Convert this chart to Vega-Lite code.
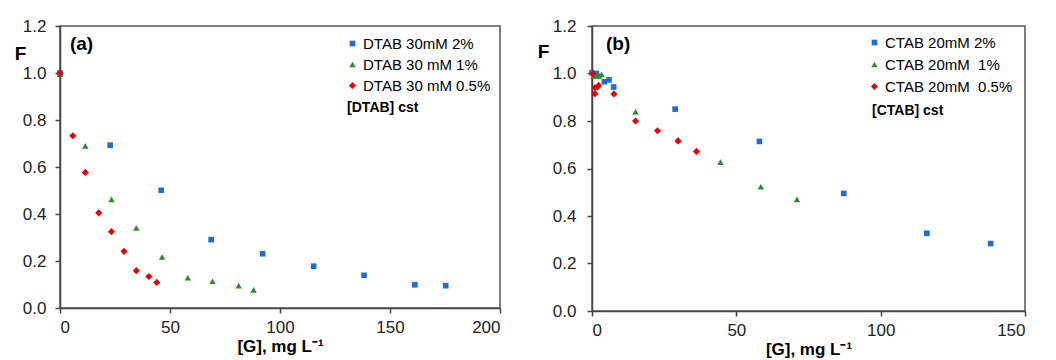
{
  "$schema": "https://vega.github.io/schema/vega-lite/v6.json",
  "padding": {"left": 13, "top": 16, "right": 5, "bottom": 0},
  "background": "white",
  "datasets": {
    "a": [
      {"series": "DTAB 30mM 2%", "G": 0, "F": 1.0},
      {"series": "DTAB 30mM 2%", "G": 22.8, "F": 0.693},
      {"series": "DTAB 30mM 2%", "G": 46.0, "F": 0.501},
      {"series": "DTAB 30mM 2%", "G": 68.7, "F": 0.291},
      {"series": "DTAB 30mM 2%", "G": 92.1, "F": 0.231},
      {"series": "DTAB 30mM 2%", "G": 115.3, "F": 0.178},
      {"series": "DTAB 30mM 2%", "G": 138.2, "F": 0.139},
      {"series": "DTAB 30mM 2%", "G": 161.3, "F": 0.099},
      {"series": "DTAB 30mM 2%", "G": 175.3, "F": 0.095},
      {"series": "DTAB 30 mM 1%", "G": 0, "F": 0.995},
      {"series": "DTAB 30 mM 1%", "G": 11.5, "F": 0.69},
      {"series": "DTAB 30 mM 1%", "G": 23.4, "F": 0.462},
      {"series": "DTAB 30 mM 1%", "G": 34.7, "F": 0.341},
      {"series": "DTAB 30 mM 1%", "G": 46.4, "F": 0.217},
      {"series": "DTAB 30 mM 1%", "G": 58.1, "F": 0.129},
      {"series": "DTAB 30 mM 1%", "G": 69.3, "F": 0.114},
      {"series": "DTAB 30 mM 1%", "G": 81.2, "F": 0.095},
      {"series": "DTAB 30 mM 1%", "G": 88.0, "F": 0.077},
      {"series": "DTAB 30 mM 0.5%", "G": 0, "F": 1.0},
      {"series": "DTAB 30 mM 0.5%", "G": 5.8, "F": 0.733},
      {"series": "DTAB 30 mM 0.5%", "G": 11.5, "F": 0.577},
      {"series": "DTAB 30 mM 0.5%", "G": 17.6, "F": 0.405},
      {"series": "DTAB 30 mM 0.5%", "G": 23.4, "F": 0.325},
      {"series": "DTAB 30 mM 0.5%", "G": 29.1, "F": 0.241},
      {"series": "DTAB 30 mM 0.5%", "G": 34.7, "F": 0.159},
      {"series": "DTAB 30 mM 0.5%", "G": 40.4, "F": 0.134},
      {"series": "DTAB 30 mM 0.5%", "G": 44.0, "F": 0.109}
    ],
    "b": [
      {"series": "CTAB 20mM 2%", "G": 0, "F": 1.003},
      {"series": "CTAB 20mM 2%", "G": 1.5, "F": 1.0},
      {"series": "CTAB 20mM 2%", "G": 4.3, "F": 0.965},
      {"series": "CTAB 20mM 2%", "G": 5.9, "F": 0.973},
      {"series": "CTAB 20mM 2%", "G": 7.5, "F": 0.943},
      {"series": "CTAB 20mM 2%", "G": 28.8, "F": 0.85},
      {"series": "CTAB 20mM 2%", "G": 58.0, "F": 0.714},
      {"series": "CTAB 20mM 2%", "G": 87.2, "F": 0.495},
      {"series": "CTAB 20mM 2%", "G": 116.0, "F": 0.327},
      {"series": "CTAB 20mM 2%", "G": 138.1, "F": 0.284},
      {"series": "CTAB 20mM\u00a0 1%", "G": 0.5, "F": 0.99},
      {"series": "CTAB 20mM\u00a0 1%", "G": 1.5, "F": 0.99},
      {"series": "CTAB 20mM\u00a0 1%", "G": 2.5, "F": 0.99},
      {"series": "CTAB 20mM\u00a0 1%", "G": 3.3, "F": 0.997},
      {"series": "CTAB 20mM\u00a0 1%", "G": 15.1, "F": 0.839},
      {"series": "CTAB 20mM\u00a0 1%", "G": 29.9, "F": 0.721},
      {"series": "CTAB 20mM\u00a0 1%", "G": 44.5, "F": 0.627},
      {"series": "CTAB 20mM\u00a0 1%", "G": 58.5, "F": 0.523},
      {"series": "CTAB 20mM\u00a0 1%", "G": 71.0, "F": 0.47},
      {"series": "CTAB 20mM\u00a0 0.5%", "G": 0.3, "F": 0.999},
      {"series": "CTAB 20mM\u00a0 0.5%", "G": 1.0, "F": 0.94},
      {"series": "CTAB 20mM\u00a0 0.5%", "G": 1.0, "F": 0.915},
      {"series": "CTAB 20mM\u00a0 0.5%", "G": 1.9, "F": 0.943},
      {"series": "CTAB 20mM\u00a0 0.5%", "G": 2.3, "F": 0.95},
      {"series": "CTAB 20mM\u00a0 0.5%", "G": 7.6, "F": 0.914},
      {"series": "CTAB 20mM\u00a0 0.5%", "G": 15.1, "F": 0.8},
      {"series": "CTAB 20mM\u00a0 0.5%", "G": 22.7, "F": 0.759},
      {"series": "CTAB 20mM\u00a0 0.5%", "G": 29.8, "F": 0.716},
      {"series": "CTAB 20mM\u00a0 0.5%", "G": 36.2, "F": 0.672}
    ]
  },
  "config": {
    "font": "Liberation Sans",
    "view": {"stroke": "#555555", "strokeWidth": 1.5},
    "axis": {
      "grid": false,
      "domainColor": "#444444",
      "domainWidth": 1.5,
      "tickColor": "#444444",
      "tickWidth": 1.5,
      "tickSize": 5,
      "labelColor": "#222222",
      "labelFontSize": 17,
      "labelFont": "Liberation Sans",
      "titleFont": "Liberation Sans",
      "titleFontSize": 17,
      "titleFontWeight": "bold",
      "titleColor": "#000000"
    },
    "legend": {
      "labelFont": "Liberation Sans",
      "labelFontSize": 15,
      "labelColor": "#000000",
      "symbolSize": 22,
      "padding": 0,
      "labelOffset": 3
    }
  },
  "resolve": {"scale": {"color": "independent", "shape": "independent", "size": "independent"}, "legend": {"color": "independent", "shape": "independent"}},
  "spacing": 34,
  "hconcat": [
    {
      "width": 440,
      "height": 282,
      "layer": [
        {
          "data": {"name": "a"},
          "mark": {"type": "point", "filled": true, "opacity": 1},
          "encoding": {
            "x": {"field": "G", "type": "quantitative", "scale": {"domain": [0, 200], "nice": false},
              "axis": {"values": [0, 50, 100, 150, 200], "title": "[G], mg L⁻¹", "labelPadding": 6, "titlePadding": 3}},
            "y": {"field": "F", "type": "quantitative", "scale": {"domain": [0, 1.2], "nice": false},
              "axis": {"values": [0, 0.2, 0.4, 0.6, 0.8, 1.0, 1.2], "format": ".1f", "labelPadding": 9, "title": "F", "titleAngle": 0, "titleX": -40, "titleY": 27, "titleAlign": "center", "titleBaseline": "middle", "titleFontSize": 19}},
            "color": {"field": "series", "type": "nominal",
              "scale": {"domain": ["DTAB 30mM 2%", "DTAB 30 mM 1%", "DTAB 30 mM 0.5%"], "range": ["#1f6fd1", "#2e8b2e", "#e8000b"]},
              "legend": {"title": null, "orient": "none", "legendX": 285, "legendY": 10, "rowPadding": 5}},
            "shape": {"field": "series", "type": "nominal",
              "scale": {"domain": ["DTAB 30mM 2%", "DTAB 30 mM 1%", "DTAB 30 mM 0.5%"], "range": ["square", "triangle-up", "diamond"]},
              "legend": {"title": null, "orient": "none", "legendX": 285, "legendY": 10, "rowPadding": 5}},
            "size": {"field": "series", "type": "nominal",
              "scale": {"domain": ["DTAB 30mM 2%", "DTAB 30 mM 1%", "DTAB 30 mM 0.5%"], "range": [32, 52, 60]},
              "legend": null}
          }
        },
        {
          "data": {"values": [{"G": 4.5, "F": 1.123, "label": "(a)"}]},
          "mark": {"type": "text", "align": "left", "baseline": "middle", "fontSize": 19, "fontWeight": "bold", "color": "#000000"},
          "encoding": {"x": {"field": "G", "type": "quantitative"}, "y": {"field": "F", "type": "quantitative"}, "text": {"field": "label"}}
        },
        {
          "data": {"values": [{"G": 130.5, "F": 0.852, "label": "[DTAB] cst"}]},
          "mark": {"type": "text", "align": "left", "baseline": "middle", "fontSize": 14, "fontWeight": "bold", "color": "#000000"},
          "encoding": {"x": {"field": "G", "type": "quantitative"}, "y": {"field": "F", "type": "quantitative"}, "text": {"field": "label"}}
        }
      ]
    },
    {
      "width": 433,
      "height": 285,
      "layer": [
        {
          "data": {"name": "b"},
          "mark": {"type": "point", "filled": true, "opacity": 1},
          "encoding": {
            "x": {"field": "G", "type": "quantitative", "scale": {"domain": [0, 150], "nice": false},
              "axis": {"values": [0, 50, 100, 150], "title": "[G], mg L⁻¹", "labelPadding": 6, "titlePadding": 3}},
            "y": {"field": "F", "type": "quantitative", "scale": {"domain": [0, 1.2], "nice": false},
              "axis": {"values": [0, 0.2, 0.4, 0.6, 0.8, 1.0, 1.2], "format": ".1f", "labelPadding": 11, "title": "F", "titleAngle": 0, "titleX": -49, "titleY": 25, "titleAlign": "center", "titleBaseline": "middle", "titleFontSize": 19}},
            "color": {"field": "series", "type": "nominal",
              "scale": {"domain": ["CTAB 20mM 2%", "CTAB 20mM\u00a0 1%", "CTAB 20mM\u00a0 0.5%"], "range": ["#1f6fd1", "#2e8b2e", "#e8000b"]},
              "legend": {"title": null, "orient": "none", "legendX": 275, "legendY": 9, "rowPadding": 6}},
            "shape": {"field": "series", "type": "nominal",
              "scale": {"domain": ["CTAB 20mM 2%", "CTAB 20mM\u00a0 1%", "CTAB 20mM\u00a0 0.5%"], "range": ["square", "triangle-up", "diamond"]},
              "legend": {"title": null, "orient": "none", "legendX": 275, "legendY": 9, "rowPadding": 6}},
            "size": {"field": "series", "type": "nominal",
              "scale": {"domain": ["CTAB 20mM 2%", "CTAB 20mM\u00a0 1%", "CTAB 20mM\u00a0 0.5%"], "range": [32, 52, 60]},
              "legend": null}
          }
        },
        {
          "data": {"values": [{"G": 4.85, "F": 1.124, "label": "(b)"}]},
          "mark": {"type": "text", "align": "left", "baseline": "middle", "fontSize": 19, "fontWeight": "bold", "color": "#000000"},
          "encoding": {"x": {"field": "G", "type": "quantitative"}, "y": {"field": "F", "type": "quantitative"}, "text": {"field": "label"}}
        },
        {
          "data": {"values": [{"G": 97, "F": 0.842, "label": "[CTAB] cst"}]},
          "mark": {"type": "text", "align": "left", "baseline": "middle", "fontSize": 14, "fontWeight": "bold", "color": "#000000"},
          "encoding": {"x": {"field": "G", "type": "quantitative"}, "y": {"field": "F", "type": "quantitative"}, "text": {"field": "label"}}
        }
      ]
    }
  ]
}
